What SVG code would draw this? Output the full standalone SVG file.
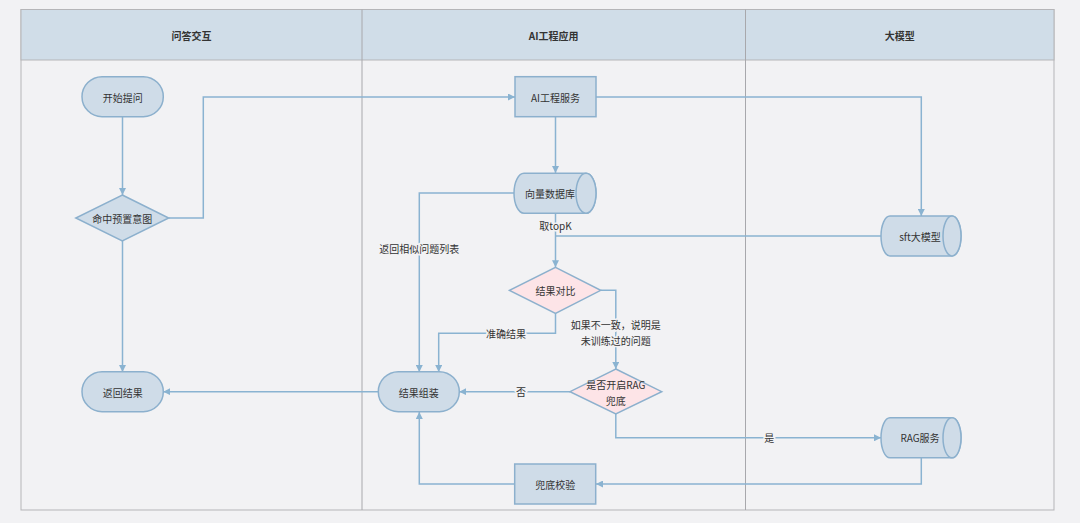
<svg xmlns="http://www.w3.org/2000/svg" width="1080" height="523" viewBox="0 0 1080 523">
<defs>
<marker id="arr" viewBox="0 0 10 10" refX="10" refY="5" markerWidth="7" markerHeight="7" markerUnits="userSpaceOnUse" orient="auto">
<path d="M0,0 L10,5 L0,10 Z" fill="#8ab3d1"/>
</marker>
<style>
text{font-family:"Noto Sans CJK SC","Liberation Sans",sans-serif;fill:#333;font-size:10px;text-anchor:middle;dominant-baseline:central}
.hd{font-weight:bold;font-size:10px}
.node{fill:#cfdce8;stroke:#8cb0cd;stroke-width:1.5}
.dia{fill:#fde4e7;stroke:#8cb0cd;stroke-width:1.5}
.ln{fill:none;stroke:#8ab3d1;stroke-width:1.5}
.lbl{stroke:#f2f2f4;stroke-width:3;paint-order:stroke}
</style>
</defs>
<rect x="0" y="0" width="1080" height="523" fill="#f2f2f4"/>
<g id="frame">
<rect x="21" y="9.5" width="1033" height="500.5" fill="#f2f2f4" stroke="#b5b5b8" stroke-width="1"/>
<rect x="21" y="9.5" width="1033" height="50.5" fill="#d0dde8" stroke="#b5b5b8" stroke-width="1"/>
<line x1="362" y1="9.5" x2="362" y2="510" stroke="#a8a8ac" stroke-width="1"/>
<line x1="745.5" y1="9.5" x2="745.5" y2="510" stroke="#a8a8ac" stroke-width="1"/>
<text class="hd" x="191.5" y="35">问答交互</text>
<text class="hd" x="553.7" y="35">AI工程应用</text>
<text class="hd" x="899.8" y="35">大模型</text>
</g>
<g id="connectors">
<path class="ln" d="M122.5,117 V195" marker-end="url(#arr)"/>
<path class="ln" d="M168.7,218 H203.3 V97 H515" marker-end="url(#arr)"/>
<path class="ln" d="M122.5,241 V372" marker-end="url(#arr)"/>
<path class="ln" d="M555.5,117 V173" marker-end="url(#arr)"/>
<path class="ln" d="M596,97 H921.3 V216" marker-end="url(#arr)"/>
<path class="ln" d="M514,193 H419.3 V372" marker-end="url(#arr)"/>
<path class="ln" d="M555.5,213 V267.3" marker-end="url(#arr)"/>
<text class="lbl" x="419.3" y="248">返回相似问题列表</text>
<text class="lbl" x="555.5" y="225.5">取topK</text>
<path class="ln" d="M881,236 H555.5"/>
<path class="ln" d="M555.5,313.3 V333.3 H438.7 V372" marker-end="url(#arr)"/>
<path class="ln" d="M600.7,290.3 H615.8 V369" marker-end="url(#arr)"/>
<path class="ln" d="M570,391.7 H459.3" marker-end="url(#arr)"/>
<path class="ln" d="M615.8,414 V437.8 H881" marker-end="url(#arr)"/>
<path class="ln" d="M921.3,458 V484 H596" marker-end="url(#arr)"/>
<path class="ln" d="M515,484 H419.3 V412" marker-end="url(#arr)"/>
<path class="ln" d="M378.3,391.7 H163.3" marker-end="url(#arr)"/>
<text class="lbl" x="506" y="333.3">准确结果</text>
<text class="lbl" x="615.8" y="324.3">如果不一致，说明是</text>
<text class="lbl" x="615.8" y="340">未训练过的问题</text>
<text class="lbl" x="521" y="391.7">否</text>
<text class="lbl" x="769.3" y="437.8">是</text>
</g>
<g id="n_start">
<rect class="node" x="82" y="76.7" width="81.3" height="40" rx="20" ry="20"/>
<text x="122.7" y="97">开始提问</text>
</g>
<g id="n_intent">
<polygon class="node" points="122.3,195 168.7,218 122.3,241 75.8,218"/>
<text x="122.3" y="218">命中预置意图</text>
</g>
<g id="n_return">
<rect class="node" x="82" y="371.7" width="81.3" height="40" rx="20" ry="20"/>
<text x="122.7" y="392">返回结果</text>
</g>
<g id="n_ai">
<rect class="node" x="515" y="76.7" width="81" height="40"/>
<text x="555.5" y="97">AI工程服务</text>
</g>
<g id="n_vdb">
<path class="node" d="M524,173.3 H586 A10,20 0 0 1 586,213.3 H524 A10,20 0 0 1 524,173.3 Z"/>
<ellipse class="node" cx="586" cy="193.3" rx="10" ry="20"/>
<text x="550" y="193.3">向量数据库</text>
</g>
<g id="n_sft">
<path class="node" d="M890,216 H952 A9,20 0 0 1 952,256 H890 A9,20 0 0 1 890,216 Z"/>
<ellipse class="node" cx="952" cy="236" rx="9" ry="20"/>
<text x="920" y="236">sft大模型</text>
</g>
<g id="n_compare">
<polygon class="dia" points="555.5,267.3 600.7,290.3 555.5,313.3 509.5,290.3"/>
<text x="555.5" y="290.3">结果对比</text>
</g>
<g id="n_rag_q">
<polygon class="dia" points="615.8,369 661.7,391.7 615.8,414 570,391.7"/>
<text x="615.8" y="384">是否开启RAG</text>
<text x="615.8" y="400">兜底</text>
</g>
<g id="n_assemble">
<rect class="node" x="378.3" y="371.7" width="81" height="40" rx="20" ry="20"/>
<text x="418.8" y="392">结果组装</text>
</g>
<g id="n_rag">
<path class="node" d="M890,417.8 H952 A9,20 0 0 1 952,457.8 H890 A9,20 0 0 1 890,417.8 Z"/>
<ellipse class="node" cx="952" cy="437.8" rx="9" ry="20"/>
<text x="920" y="437.8">RAG服务</text>
</g>
<g id="n_check">
<rect class="node" x="514.7" y="464" width="81" height="40"/>
<text x="555.2" y="484">兜底校验</text>
</g>
</svg>
